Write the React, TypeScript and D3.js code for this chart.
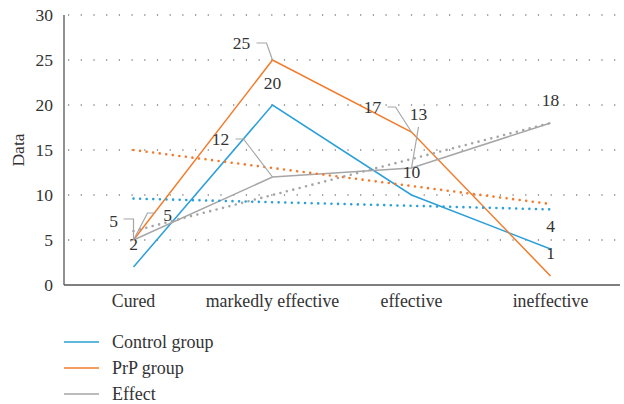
import React from "react";
import * as d3 from "d3";

const categories = ["Cured", "markedly effective", "effective", "ineffective"];
const controlGroup = [2, 20, 10, 4];
const prpGroup = [5, 25, 17, 1];
const effect = [5, 12, 13, 18];
// linear trend lines, value at first and last category
const controlTrend = [9.6, 8.4];
const prpTrend = [15, 9];
const effectTrend = [6, 18];
const yTicks = [0, 5, 10, 15, 20, 25, 30];

const W = 624;
const H = 404;
const left = 64;
const right = 620;
const top = 15;
const bottom = 285;

const BLUE = "#2b9fd9";
const ORANGE = "#f27b2b";
const GRAY = "#a6a6a6";
const TXT = "#333";
const FONT = "Liberation Serif";

type Lbl = { dx: number; dy: number; call?: [number, number][] };

// label offsets from the point (layout only)
const controlLbl: Lbl[] = [
  { dx: 0, dy: -23 },
  { dx: 0, dy: -22 },
  { dx: 0, dy: -23 },
  { dx: 0, dy: -23 },
];
const prpLbl: Lbl[] = [
  { dx: -20, dy: -19, call: [[-10, -21], [0, -21], [0, 0]] },
  { dx: -31, dy: -17, call: [[-16, -17], [-6, -17], [0, 0]] },
  { dx: -39, dy: -25, call: [[-24, -25], [-16, -25], [0, 0]] },
  { dx: 0, dy: -23 },
];
const effectLbl: Lbl[] = [
  { dx: 34, dy: -25, call: [[22, -27], [14, -27], [0, 0]] },
  { dx: -52, dy: -38, call: [[-37, -38], [-29, -38], [0, 0]] },
  { dx: 7, dy: -54, call: [[7, -41], [0, 0]] },
  { dx: 0, dy: -23 },
];

export default function App() {
  const x = d3.scalePoint<string>().domain(categories).range([left, right]).padding(0.5);
  const y = d3.scaleLinear().domain([0, 30]).range([bottom, top]);
  const line = d3
    .line<number>()
    .x((_, i) => x(categories[i]) as number)
    .y((d) => y(d));
  const x0 = x(categories[0]) as number;
  const x1 = x(categories[categories.length - 1]) as number;

  const series = [
    { name: "Control group", vals: controlGroup, trend: controlTrend, color: BLUE, lbl: controlLbl },
    { name: "PrP group", vals: prpGroup, trend: prpTrend, color: ORANGE, lbl: prpLbl },
    { name: "Effect", vals: effect, trend: effectTrend, color: GRAY, lbl: effectLbl },
  ];

  return (
    <svg width={W} height={H} style={{ position: "absolute", left: 0, top: 0 }}>
      <rect width={W} height={H} fill="#fff" />
      {yTicks.map((t) => (
        <g key={t}>
          {t > 0 && (
            <line
              x1={left + 4}
              x2={right}
              y1={y(t)}
              y2={y(t)}
              stroke="#444"
              strokeWidth={1.2}
              strokeDasharray="1.2 11.5"
            />
          )}
          <text
            x={53}
            y={y(t)}
            textAnchor="end"
            dominantBaseline="central"
            fontFamily={FONT}
            fontSize={17.5}
            fill={TXT}
          >
            {t}
          </text>
        </g>
      ))}
      <line x1={left} x2={left} y1={top} y2={bottom} stroke="#555" strokeWidth={1.3} />
      <line x1={left} x2={right} y1={bottom} y2={bottom} stroke="#555" strokeWidth={1.3} />
      {categories.map((c) => (
        <text key={c} x={x(c)} y={307} textAnchor="middle" fontFamily={FONT} fontSize={17.8} fill={TXT}>
          {c}
        </text>
      ))}
      <text
        transform="translate(24,150) rotate(-90)"
        textAnchor="middle"
        fontFamily={FONT}
        fontSize={17.5}
        fill={TXT}
      >
        Data
      </text>
      {series.map((s) => (
        <path key={s.name} d={line(s.vals) || ""} fill="none" stroke={s.color} strokeWidth={1.5} />
      ))}
      {series.map((s) => (
        <line
          key={s.name + "t"}
          x1={x0}
          x2={x1}
          y1={y(s.trend[0])}
          y2={y(s.trend[1])}
          stroke={s.color}
          strokeWidth={2.6}
          strokeLinecap="round"
          strokeDasharray="0 6.6"
        />
      ))}
      {series.map((s) =>
        s.vals.map((v, i) => {
          const px = x(categories[i]) as number;
          const py = y(v);
          const l = s.lbl[i];
          return (
            <g key={s.name + i}>
              {l.call && (
                <polyline
                  points={l.call.map((p) => `${px + p[0]},${py + p[1]}`).join(" ")}
                  fill="none"
                  stroke={GRAY}
                  strokeWidth={1.2}
                />
              )}
              <text
                x={px + l.dx}
                y={py + l.dy}
                textAnchor="middle"
                dominantBaseline="central"
                fontFamily={FONT}
                fontSize={17.5}
                fill={TXT}
              >
                {v}
              </text>
            </g>
          );
        })
      )}
      {series.map((s, i) => (
        <g key={s.name + "lg"} transform={`translate(0,${342 + i * 26})`}>
          <line x1={64} x2={99} y1={0} y2={0} stroke={s.color} strokeWidth={1.5} />
          <text x={112} y={5.5} fontFamily={FONT} fontSize={18} fill={TXT}>
            {s.name}
          </text>
        </g>
      ))}
    </svg>
  );
}
